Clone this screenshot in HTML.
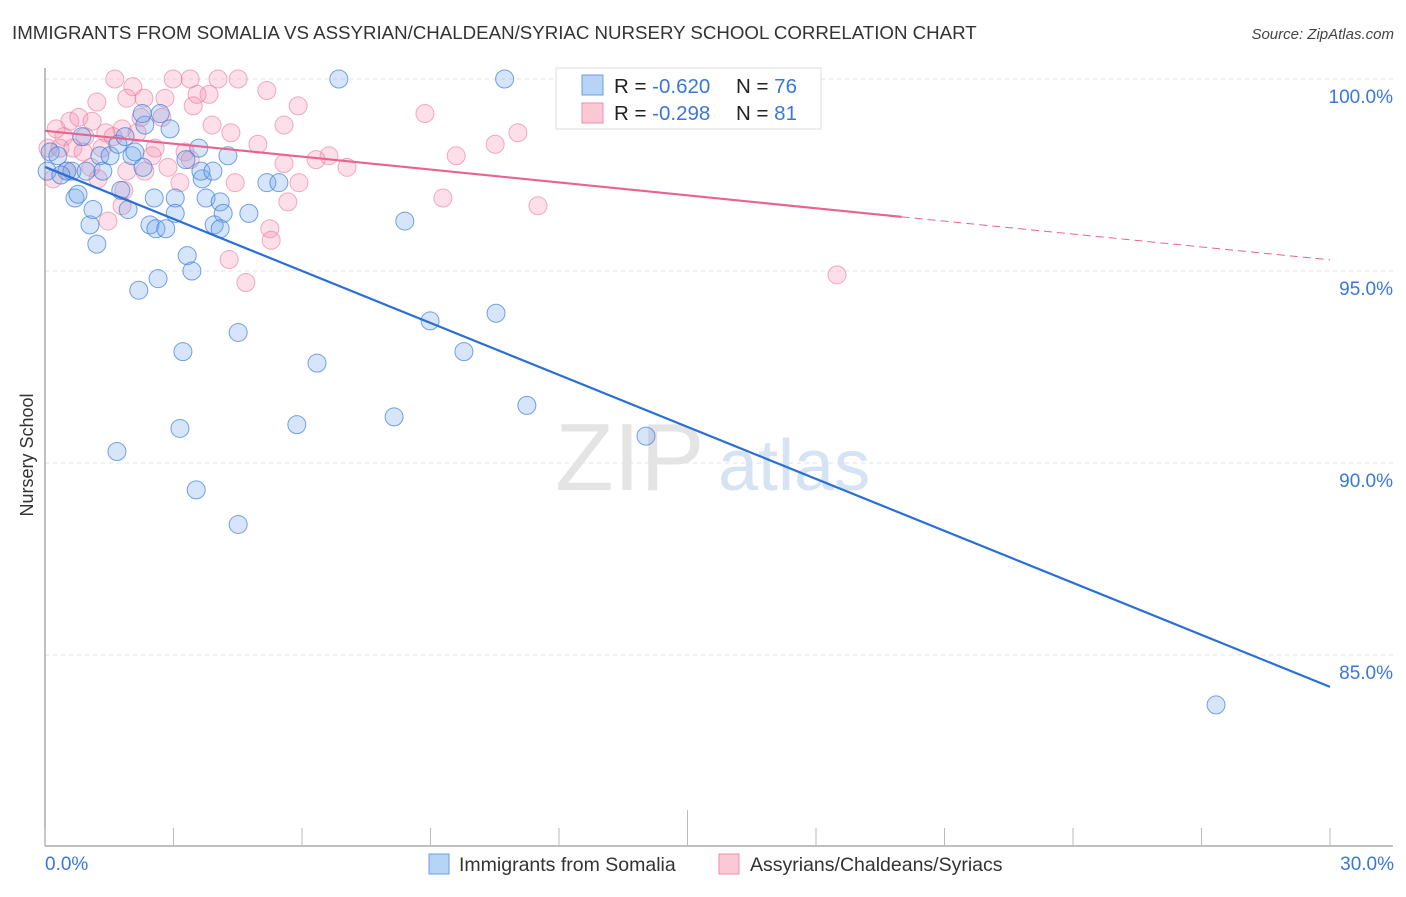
<!DOCTYPE html>
<html><head><meta charset="utf-8"><style>
body{margin:0;background:#fff;font-family:"Liberation Sans",sans-serif;}
svg text{font-family:"Liberation Sans",sans-serif;}
</style></head><body>
<svg id="chart" width="1406" height="892" viewBox="0 0 1406 892" xmlns="http://www.w3.org/2000/svg">
<text x="12" y="39" font-size="18.7" fill="#333">IMMIGRANTS FROM SOMALIA VS ASSYRIAN/CHALDEAN/SYRIAC NURSERY SCHOOL CORRELATION CHART</text>
<text x="1394" y="39" font-size="15" fill="#444" font-style="italic" text-anchor="end">Source: ZipAtlas.com</text>
<text transform="translate(33,455) rotate(-90)" font-size="18" fill="#333" text-anchor="middle">Nursery School</text>
<g id="grid"></g>
<g><text x="555" y="490" font-size="96" font-family="Liberation Serif,serif" fill="#e4e4e4">ZIP</text><text x="718" y="490" font-size="72" fill="#d5e3f5">atlas</text></g>
<g id="pts"></g>
<g id="lines"></g>
<g>
<rect x="556" y="68" width="265" height="61" fill="#fff" stroke="#ddd"/>
<rect x="582" y="75" width="21" height="20" fill="#b7d3f5" stroke="#6a9fe0"/>
<rect x="582" y="103" width="21" height="20" fill="#fbc8d6" stroke="#eb91ad"/>
<text x="614" y="93" font-size="20.5" fill="#222">R = <tspan fill="#3a78d8">-0.620</tspan><tspan x="736">N = </tspan><tspan fill="#3a78d8">76</tspan></text>
<text x="614" y="120" font-size="20.5" fill="#222">R = <tspan fill="#3a78d8"> -0.298</tspan><tspan x="736">N = </tspan><tspan fill="#3a78d8"> 81</tspan></text>
</g>
<g>
<rect x="429" y="854" width="20" height="20" fill="#b7d3f5" stroke="#6a9fe0"/>
<text x="459" y="871" font-size="19.5" fill="#333">Immigrants from Somalia</text>
<rect x="719" y="854" width="20" height="20" fill="#fbc8d6" stroke="#eb91ad"/>
<text x="750" y="871" font-size="19.5" fill="#333">Assyrians/Chaldeans/Syriacs</text>
</g>
</svg>
<script>
const xTicksLabels=["0.0%","30.0%"];
const yTickValues=[100,95,90,85];
const yTickLabels=["100.0%","95.0%","90.0%","85.0%"];
const blueX=[6.86,10.73,0.05,0.12,0.30,0.51,0.63,0.70,0.77,1.05,1.12,1.21,0.86,1.28,1.35,1.52,1.70,1.77,1.94,1.87,2.03,2.10,2.29,2.33,2.27,2.69,2.92,2.55,2.45,2.59,2.82,3.04,3.04,3.32,3.43,2.19,2.64,3.59,3.29,3.67,3.64,3.92,3.76,4.09,4.16,3.95,4.09,4.76,4.27,5.18,5.46,8.40,4.51,3.22,6.35,8.99,9.78,10.53,3.15,5.88,8.15,11.25,14.03,1.68,3.53,4.51,27.34,0.96,0.37];
const blueY=[100,100,97.6,98.1,98.0,97.6,97.6,96.9,97.0,96.2,96.6,95.7,98.5,98.0,97.6,98.0,98.3,97.1,96.6,98.5,98.0,98.1,97.7,98.8,99.1,99.1,98.7,96.9,96.2,96.1,96.1,96.9,96.5,95.4,95.0,94.5,94.8,98.2,97.9,97.4,97.6,97.6,96.9,96.8,96.5,96.2,96.1,96.5,98.0,97.3,97.3,96.3,93.4,92.9,92.6,93.7,92.9,93.9,90.9,91.0,91.2,91.5,90.7,90.3,89.3,88.4,83.7,97.6,97.5];
const pinkX=[1.63,2.99,3.39,4.04,4.51,2.05,2.31,1.91,2.80,3.83,3.55,1.21,3.46,5.91,5.18,8.87,0.58,0.79,1.10,2.24,2.73,3.90,5.58,11.04,1.42,0.93,0.44,0.26,1.80,2.15,4.34,4.97,10.51,0.07,0.35,0.65,1.33,2.57,3.27,2.50,3.39,6.63,6.33,9.60,0.19,0.51,1.07,1.24,1.91,2.33,2.87,3.15,4.44,5.58,5.93,7.05,9.29,11.51,1.80,1.47,5.25,5.28,5.67,4.30,4.69,18.49,0.89,1.59,1.84];
const pinkY=[100,100,100,100,100,99.8,99.5,99.5,99.5,99.6,99.6,99.4,99.3,99.3,99.7,99.1,98.9,99.0,98.9,99.0,99.0,98.8,98.8,98.6,98.6,98.5,98.5,98.7,98.7,98.6,98.6,98.3,98.3,98.2,98.2,98.2,98.2,98.2,98.1,98.0,97.9,98.0,97.9,98.0,97.4,97.6,97.7,97.4,97.6,97.6,97.7,97.3,97.3,97.8,97.3,97.7,96.9,96.7,96.7,96.3,96.1,95.8,96.8,95.3,94.7,94.9,98.1,98.5,97.1];
const blueFit=[97.71,84.17];
const pinkFit=[98.65,95.29];
const NS="http://www.w3.org/2000/svg";
const X0=45,X1=1330,YT=79,PPU=38.4;
function sx(v){return X0+(v/30)*(X1-X0);}
function sy(v){return YT+(100-v)*PPU;}
function mk(t,a,p){const e=document.createElementNS(NS,t);for(const k in a)e.setAttribute(k,a[k]);p.appendChild(e);return e;}
const grid=document.getElementById('grid');
yTickValues.forEach((v,i)=>{
 const l=mk('line',{x1:X0,x2:1393,y1:sy(v),y2:sy(v),stroke:'#e2e2e2','stroke-dasharray':'4,4'},grid);
 
 
 const t=mk('text',{x:1393,y:sy(v)+24,'font-size':19,fill:'#3a78d8','text-anchor':'end'},grid);
 t.textContent=yTickLabels[i];
 
 
});
const ax=mk('line',{x1:X0,x2:X0,y1:68,y2:846,stroke:'#aaa','stroke-width':1.5},grid);


const bx=mk('line',{x1:X0,x2:1393,y1:846,y2:846,stroke:'#aaa','stroke-width':1.5},grid);


for(let i=0;i<=10;i++){
 const v=i*3;
 const tk=mk('line',{x1:sx(v),x2:sx(v),y1:i==5?810:828,y2:846,stroke:'#bbb'},grid);
 
 
}
[0,30].forEach((v,i)=>{
 const t=mk('text',{x:i?1394:45,y:870,'font-size':19,fill:'#3a78d8','text-anchor':i?'end':'start'},grid);
 t.textContent=xTicksLabels[i];
 
 
});
const pts=document.getElementById('pts');
pinkX.forEach((x,i)=>{
 const c=mk('circle',{cx:sx(x),cy:sy(pinkY[i]),r:9,fill:'rgba(245,150,180,0.3)',stroke:'rgba(232,120,155,0.6)'},pts);
 
 
});
blueX.forEach((x,i)=>{
 const c=mk('circle',{cx:sx(x),cy:sy(blueY[i]),r:9,fill:'rgba(120,170,235,0.3)',stroke:'rgba(60,125,215,0.7)'},pts);
 
 
});
const lines=document.getElementById('lines');
const bl=mk('line',{x1:sx(0),y1:sy(blueFit[0]),x2:sx(30),y2:sy(blueFit[1]),stroke:'#2a6fd6','stroke-width':2.2},lines);


const pm=20;
const pmv=pinkFit[0]+(pinkFit[1]-pinkFit[0])*pm/30;
const pl=mk('line',{x1:sx(0),y1:sy(pinkFit[0]),x2:sx(pm),y2:sy(pmv),stroke:'#e8648e','stroke-width':2.2},lines);


const pd=mk('line',{x1:sx(pm),y1:sy(pmv),x2:sx(30),y2:sy(pinkFit[1]),stroke:'#e8648e','stroke-width':1,'stroke-dasharray':'8,5'},lines);


</script>
</body></html>
